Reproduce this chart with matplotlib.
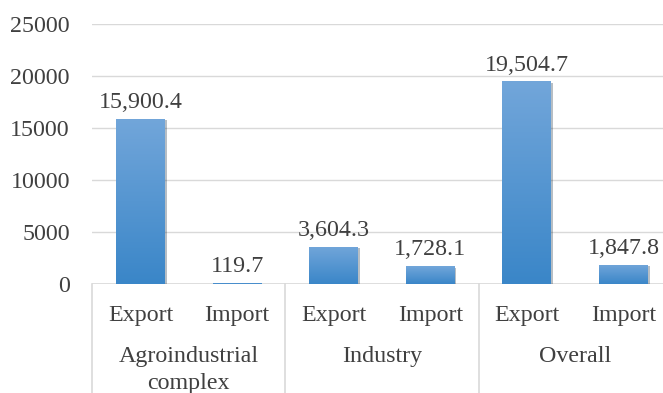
import numpy as np
import matplotlib
matplotlib.use("Agg")
import matplotlib.pyplot as plt
import matplotlib.patheffects as pe
from matplotlib.colors import to_rgb

groups = ["Agroindustrial\ncomplex", "Industry", "Overall"]
flows = ["Export", "Import"]
values = [15900.4, 119.7, 3604.3, 1728.1, 19504.7, 1847.8]
yticks = [0, 5000, 10000, 15000, 20000, 25000]

plt.rcParams["font.family"] = ["Liberation Serif", "DejaVu Serif"]
text_color = "#404040"
grid_color = "#d9d9d9"
top_color = to_rgb("#72a6da")
bottom_color = to_rgb("#3a86c8")
fs = 17.3

W, H = 663, 393
fig = plt.figure(figsize=(W / 100, H / 100), dpi=100)
left, right = 92.2, 663
top, bottom = 24, 284
ax = fig.add_axes([left / W, 1 - bottom / H, (right - left) / W, (bottom - top) / H])

slot = 96.6
x = np.arange(len(values))
ax.set_xlim(-0.5, -0.5 + (right - left) / slot)
ax.set_ylim(0, 25000)

bars = ax.bar(x, values, width=0.507, color=bottom_color, zorder=3,
              path_effects=[pe.SimplePatchShadow(offset=(1.2, -1.2), alpha=0.3), pe.Normal()])

# vertical gradient fill inside each bar
grad = np.linspace(0, 1, 256)[:, None, None]
grad = np.array(bottom_color) * (1 - grad) + np.array(top_color) * grad
for b in bars:
    x0, w, h = b.get_x(), b.get_width(), b.get_height()
    im = ax.imshow(grad, extent=[x0, x0 + w, 0, h], origin="lower",
                   aspect="auto", zorder=4, interpolation="bilinear")
    im.set_clip_path(b)

for xi, v in zip(x, values):
    ax.annotate(f"{v:,.1f}", (xi, v), xytext=(0, 4), textcoords="offset points",
                ha="center", va="bottom", fontsize=fs, color=text_color)

ax.set_yticks(yticks)
ax.set_yticklabels([str(t) for t in yticks], fontsize=fs, color=text_color)
ax.tick_params(axis="y", length=0, pad=16)
ax.set_xticks([])
ax.grid(axis="y", color=grid_color, linewidth=1, zorder=0)
ax.set_axisbelow(True)
for s in ax.spines.values():
    s.set_visible(False)
ax.axhline(0, color=grid_color, linewidth=1.2, zorder=2)

# two-level category axis
xt = ax.get_xaxis_transform()
ax_h = bottom - top
for i, xi in enumerate(x):
    ax.text(xi, -31 / ax_h, flows[i % 2], transform=xt, ha="center", va="center",
            fontsize=fs, color=text_color)
for g, name in enumerate(groups):
    ax.text(2 * g + 0.5, -62 / ax_h, name, transform=xt, ha="center", va="top",
            fontsize=fs, color=text_color, linespacing=1.35)
for sep in [-0.5, 1.5, 3.5]:
    ax.plot([sep, sep], [0, -(H - bottom) / ax_h], transform=xt, color=grid_color,
            linewidth=1.2, clip_on=False)

fig.savefig("out.png", dpi=100)
